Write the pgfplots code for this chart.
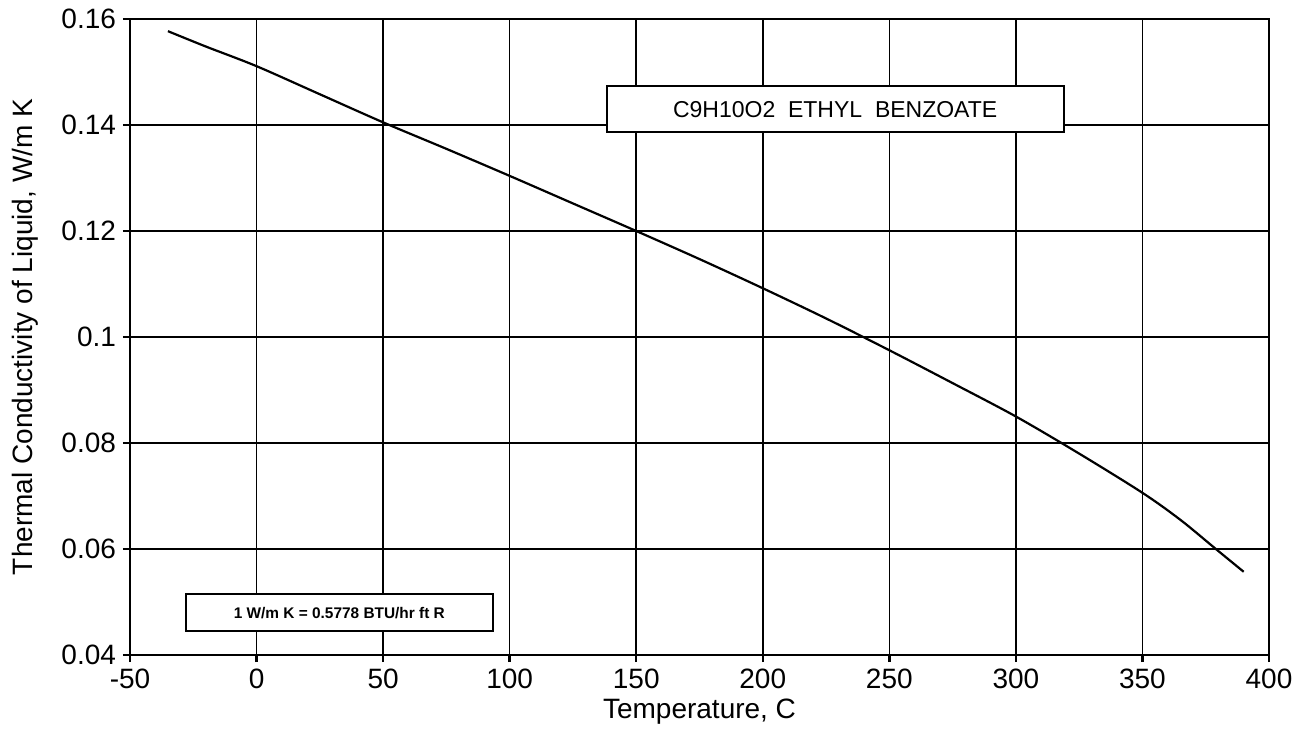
\documentclass[border=0pt]{standalone}
\usepackage{pgfplots}
\pgfplotsset{compat=1.18}
\usepackage{fontspec}
\setmainfont{Liberation Sans}
\begin{document}
\begin{tikzpicture}
\begin{axis}[
  scale only axis,
  width=569.5pt, height=318pt,
  xmin=-50, xmax=400, ymin=0.04, ymax=0.16,
  xtick={-50,0,...,400},
  ytick={0.04,0.06,...,0.161},
  tick pos=left,
  /pgf/number format/assume math mode=true,
  yticklabel style={/pgf/number format/fixed,/pgf/number format/precision=2},
  ticklabel style={font=\fontsize{14}{16}\selectfont},
  grid=major,
  major grid style={black, line width=0.8pt},
  axis line style={line width=1.4pt},
  tick align=outside,
  major tick length=3.5pt,
  tick style={black, line width=1.2pt},
  xlabel={Temperature, C},
  ylabel={Thermal Conductivity of Liquid, W/m K},
  label style={font=\fontsize{14}{16}\selectfont},
  xlabel style={at={(axis description cs:0.5,-0.0896)}, anchor=center},
  ylabel style={at={(axis description cs:-0.0922,0.5)}, anchor=center},
  clip=false,
]
\addplot[black, line width=1.1pt, smooth] coordinates {
(-35,0.1577) (-20,0.1548) (0,0.1511) (25,0.1458) (50,0.1405) (75,0.1355)
(100,0.1304) (125,0.1252) (150,0.1200) (175,0.1147) (200,0.1092) (225,0.1035)
(250,0.0975) (275,0.0913) (300,0.0850) (325,0.0780) (350,0.0706) (365,0.0655)
(379,0.0600) (390,0.0557)
};
\node[draw, line width=0.9pt, fill=white, minimum width=228.5pt, minimum height=23pt, inner sep=0pt, font=\fontsize{11.5}{13}\selectfont] at (axis cs:228.6,0.1430) {C9H10O2\ \ ETHYL\ \ BENZOATE};
\node[draw, line width=0.9pt, fill=white, minimum width=153.5pt, minimum height=18.5pt, inner sep=0pt, font=\fontsize{7.7}{9}\selectfont\bfseries] at (axis cs:32.7,0.0480) {1 W/m K = 0.5778 BTU/hr ft R};
\coordinate (sw) at (rel axis cs:0,0);
\coordinate (ne) at (rel axis cs:1,1);
\end{axis}
\pgfresetboundingbox
\useasboundingbox ([shift={(-65pt,-39.5pt)}]sw) rectangle ([shift={(22pt,9.5pt)}]ne);
\end{tikzpicture}
\end{document}
